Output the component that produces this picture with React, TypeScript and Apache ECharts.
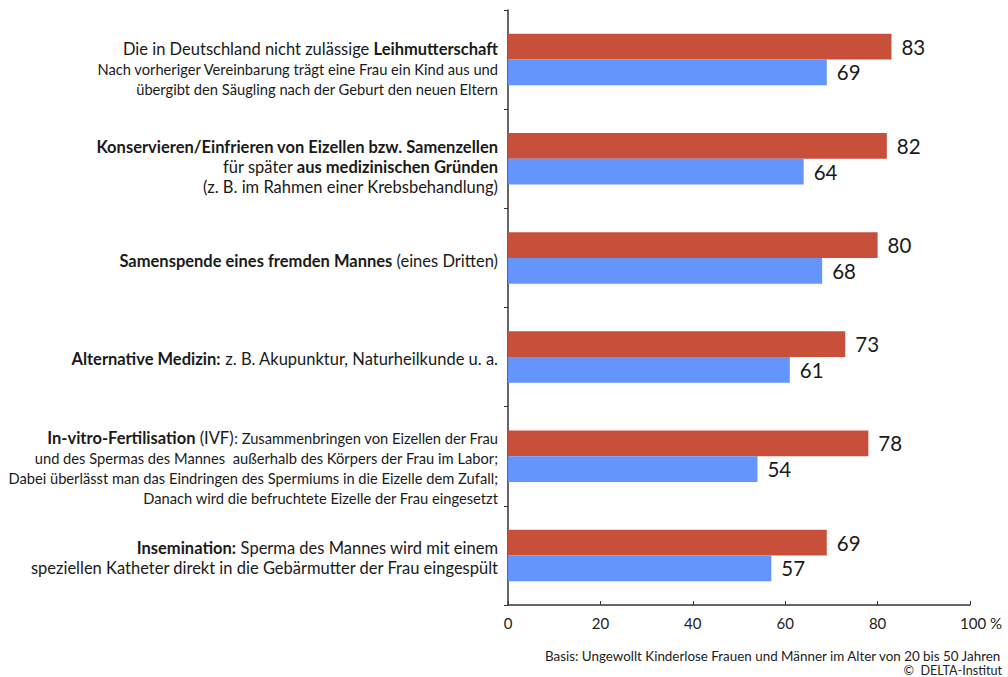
import React, { useEffect, useRef } from "react";
import * as echarts from "echarts";

// Each category: lines of segments [style, text]
const categories: [string, string][][][] = [
  [
    [["n", "Die in Deutschland nicht zulässige "], ["b", "Leihmutterschaft"]],
    [["s", "Nach vorheriger Vereinbarung trägt eine Frau ein Kind aus und"]],
    [["s", "übergibt den Säugling nach der Geburt den neuen Eltern"]],
  ],
  [
    [["b", "Konservieren/Einfrieren von Eizellen bzw. Samenzellen"]],
    [["n", "für später "], ["b", "aus medizinischen Gründen"]],
    [["n", "(z. B. im Rahmen einer Krebsbehandlung)"]],
  ],
  [[["b", "Samenspende eines fremden Mannes"], ["n", " (eines Dritten)"]]],
  [[["b", "Alternative Medizin:"], ["n", " z. B. Akupunktur, Naturheilkunde u. a."]]],
  [
    [["b", "In-vitro-Fertilisation"], ["n", " (IVF)"], ["s", ": Zusammenbringen von Eizellen der Frau"]],
    [["s", "und des Spermas des Mannes  außerhalb des Körpers der Frau im Labor;"]],
    [["s", "Dabei überlässt man das Eindringen des Spermiums in die Eizelle dem Zufall;"]],
    [["s", "Danach wird die befruchtete Eizelle der Frau eingesetzt"]],
  ],
  [
    [["b", "Insemination:"], ["n", " Sperma des Mannes wird mit einem"]],
    [["n", "speziellen Katheter direkt in die Gebärmutter der Frau eingespült"]],
  ],
];
const labelOffsets = [9, 8, 3, 2, 12, 3];

const women = [83, 82, 80, 73, 78, 69];
const men = [69, 64, 68, 61, 54, 57];
const footer1 = "Basis: Ungewollt Kinderlose Frauen und Männer im Alter von 20 bis 50 Jahren";
const footer2 = "©  DELTA-Institut";

const FONT = "Lato, 'Open Sans', sans-serif";

export default function App() {
  const ref = useRef<HTMLDivElement>(null);
  useEffect(() => {
    const chart = echarts.init(ref.current!, null, { renderer: "svg" });
    const catNames = categories.map((_, i) => "c" + i);
    chart.setOption({
      animation: false,
      backgroundColor: "#ffffff",
      textStyle: { fontFamily: FONT },
      grid: { left: 508, right: 38, top: 10, bottom: 72, containLabel: false },
      xAxis: {
        type: "value",
        min: 0,
        max: 100,
        interval: 20,
        splitLine: { show: false },
        axisLine: { show: true, lineStyle: { color: "#333", width: 1.5 } },
        axisTick: { show: true, inside: true, length: 4, lineStyle: { color: "#333" } },
        axisLabel: {
          color: "#222",
          fontSize: 15,
          fontFamily: FONT,
          margin: 10,
          formatter: (v: number) => (v === 100 ? "{p|100 %}" : String(v)),
          rich: { p: { fontSize: 15, color: "#222", fontFamily: FONT, padding: [0, 0, 0, 22] } },
        },
      },
      yAxis: {
        type: "category",
        inverse: true,
        data: catNames,
        axisLine: { show: true, lineStyle: { color: "#333", width: 1.5 } },
        axisTick: { show: true, length: 4, lineStyle: { color: "#333" } },
        axisLabel: {
          margin: 10,
          align: "right",
          formatter: (val: string) => {
            const i = Number(val.slice(1));
            const lines = categories[i]
              .map((line) => line.map(([s, t]) => `{${s}|${t}}`).join(""))
              .join("\n");
            return `{pad${i}|}\n` + lines;
          },
          rich: Object.assign(
            {
              n: { fontSize: 16.5, color: "#1a1a1a", fontFamily: FONT, lineHeight: 20 },
              b: { fontSize: 16.5, color: "#1a1a1a", fontWeight: "bold", fontFamily: FONT, lineHeight: 20 },
              s: { fontSize: 14.7, color: "#1a1a1a", fontFamily: FONT, lineHeight: 20 },
            },
            Object.fromEntries(labelOffsets.map((o, i) => ["pad" + i, { height: o * 2, lineHeight: o * 2 }]))
          ),
        },
      },
      series: [
        {
          type: "bar",
          data: women,
          barGap: "0%",
          barCategoryGap: "48%",
          itemStyle: { color: "#c8503b" },
          label: { show: true, position: "right", distance: 10, fontSize: 20.5, color: "#1a1a1a", fontFamily: FONT },
        },
        {
          type: "bar",
          data: men,
          itemStyle: { color: "#6395fc" },
          label: { show: true, position: "right", distance: 10, fontSize: 20.5, color: "#1a1a1a", fontFamily: FONT },
        },
      ],
      graphic: [
        { type: "text", right: 6, top: 649, style: { text: footer1, fontSize: 13.4, fill: "#222", fontFamily: FONT } },
        { type: "text", right: 6, top: 664, style: { text: footer2, fontSize: 12.6, fill: "#222", fontFamily: FONT } },
      ],
    });
    return () => chart.dispose();
  }, []);
  return <div ref={ref} style={{ width: 1008, height: 677, position: "absolute", left: 0, top: 0 }} />;
}
